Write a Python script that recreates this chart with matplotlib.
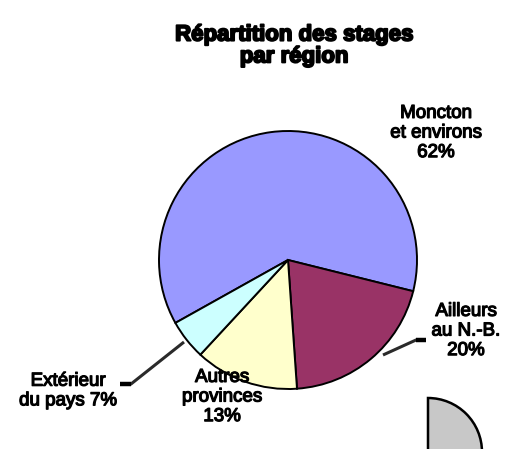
import matplotlib
matplotlib.use("Agg")
import matplotlib.pyplot as plt
from matplotlib.patches import Wedge
import matplotlib.patheffects as pe

# Data
categories = ["Moncton\net environs", "Ailleurs\nau N.-B.", "Autres\nprovinces", "Extérieur\ndu pays"]
values = [62, 20, 13, 5]
pct_labels = ["62%", "20%", "13%", "7%"]
colors = ["#9999FF", "#993366", "#FFFFCC", "#CCFFFF"]
title = "Répartition des stages\npar région"

W, H = 506, 449
fig = plt.figure(figsize=(W / 100, H / 100), dpi=100)
fig.patch.set_facecolor("white")

cx, cy, R = 288, 260, 129
ax = fig.add_axes([(cx - R) / W, (H - cy - R) / H, 2 * R / W, 2 * R / H])

ax.pie(values, colors=colors, startangle=209.2, counterclock=False, radius=1,
       wedgeprops=dict(edgecolor="black", linewidth=1.4))
ax.set_xlim(-1, 1)
ax.set_ylim(-1, 1)
ax.set_aspect("equal")
ax.axis("off")

# Overlay axes in pixel coordinates for annotations
ov = fig.add_axes([0, 0, 1, 1])
ov.set_xlim(0, W)
ov.set_ylim(H, 0)
ov.axis("off")
ov.patch.set_alpha(0)

font = "Liberation Sans"
lfs = 13.5
heavy = [pe.withStroke(linewidth=0.9, foreground="black")]

def label(x, y, s):
    ov.text(x, y, s, ha="center", va="center", fontsize=lfs, family=font,
            linespacing=1.2, path_effects=heavy)

label(436, 133, f"{categories[0]}\n{pct_labels[0]}")
label(466, 331, f"{categories[1]}\n{pct_labels[1]}")
label(222, 397, f"{categories[2]}\n{pct_labels[2]}")
cat3 = categories[3].split("\n")
label(68, 391, f"{cat3[0]}\n{cat3[1]} {pct_labels[3]}")

# Leader lines
def leader(p0, p1, p2):
    ov.plot([p0[0], p1[0], p2[0]], [p0[1], p1[1], p2[1]], color="#2a2a2a", lw=2.2,
            solid_capstyle="butt", solid_joinstyle="miter")
    ov.plot([p1[0], p2[0]], [p1[1], p2[1]], color="black", lw=3.2,
            solid_capstyle="butt")

leader((184, 342), (131, 384), (120, 384))
leader((383, 355), (416, 340), (426, 340))

# Title
ov.text(294, 46, title, ha="center", va="center", fontsize=16,
        fontweight="bold", family=font, linespacing=1.05,
        path_effects=[pe.withStroke(linewidth=1.4, foreground="black")])

# Partial grey shape of a neighbouring chart (bottom right)
ov.add_patch(Wedge((428, 452), 54, 270, 360, facecolor="#C8C8C8",
                   edgecolor="black", linewidth=1.8))

fig.savefig("out.png", dpi=100, facecolor="white")
